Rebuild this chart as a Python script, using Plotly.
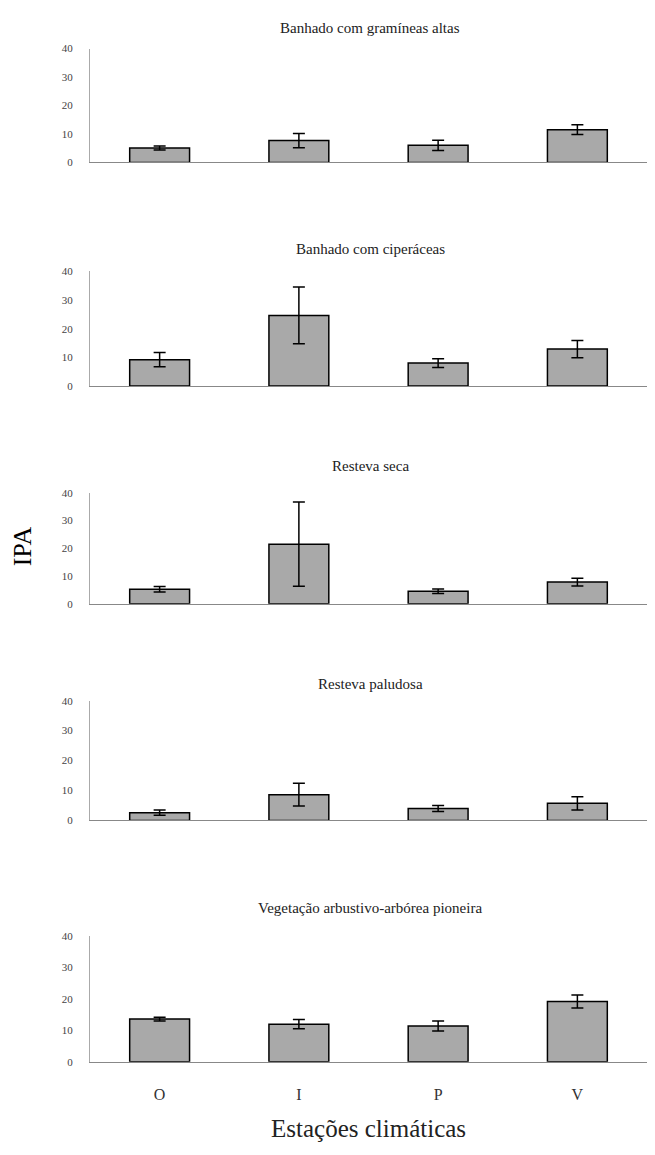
import plotly.graph_objects as go
from plotly.subplots import make_subplots

seasons = ["O", "I", "P", "V"]
titles = [
    "Banhado com gramíneas altas",
    "Banhado com ciperáceas",
    "Resteva seca",
    "Resteva paludosa",
    "Vegetação arbustivo-arbórea pioneira",
]
vals_gramineas = [5.1, 7.7, 6.0, 11.5]
err_gramineas = [0.7, 2.5, 1.8, 1.7]
vals_ciperaceas = [9.2, 24.6, 8.0, 12.9]
err_ciperaceas = [2.5, 9.9, 1.5, 3.0]
vals_resteva_seca = [5.2, 21.5, 4.5, 7.8]
err_resteva_seca = [1.0, 15.2, 0.8, 1.4]
vals_resteva_paludosa = [2.6, 8.6, 4.0, 5.7]
err_resteva_paludosa = [0.9, 3.8, 1.0, 2.2]
vals_vegetacao = [13.6, 12.0, 11.4, 19.2]
err_vegetacao = [0.6, 1.5, 1.6, 2.1]
y_ticks = [0, 10, 20, 30, 40]

series = [
    (vals_gramineas, err_gramineas),
    (vals_ciperaceas, err_ciperaceas),
    (vals_resteva_seca, err_resteva_seca),
    (vals_resteva_paludosa, err_resteva_paludosa),
    (vals_vegetacao, err_vegetacao),
]

# page is 655x1155; browser body margin of 8px around the figure
PW, PH, OFF = 655, 1155, 8
W, H = PW - 2 * OFF, PH - 2 * OFF


def px(x):
    return (x - OFF) / W


def py(y):
    return 1 - (y - OFF) / H


spans = [(43, 158), (268, 384), (492, 604), (702, 823), (940, 1067)]
title_y = [22, 245, 465, 685, 912]
x0_px, x1_px = 90, 647

fig = make_subplots(rows=5, cols=1)
serif = "Liberation Serif, Times New Roman, serif"

for i, (v, e) in enumerate(series):
    r = i + 1
    fig.add_trace(
        go.Bar(
            x=seasons, y=v,
            width=0.43,
            marker=dict(color="#a9a9a9", line=dict(color="black", width=1.5)),
            error_y=dict(type="data", array=e, color="black", thickness=1.5, width=6),
            showlegend=False,
        ),
        row=r, col=1,
    )
    top, bot = spans[i]
    yname = "yaxis" if r == 1 else f"yaxis{r}"
    xname = "xaxis" if r == 1 else f"xaxis{r}"
    fig.layout[yname].update(
        domain=[py(bot), py(top)],
        range=[0, 40], tickvals=y_ticks, ticktext=[str(t) for t in y_ticks],
        showline=True, linecolor="#aaaaaa", linewidth=1,
        showgrid=False, zeroline=False, ticks="",
        tickfont=dict(family=serif, size=11, color="#444"),
        ticklabelstandoff=14,
    )
    fig.layout[xname].update(
        domain=[px(x0_px), px(x1_px)],
        range=[-0.5, 3.5],
        showline=True, linecolor="#888888", linewidth=1,
        showgrid=False, zeroline=False, ticks="",
        showticklabels=(r == 5),
        tickfont=dict(family=serif, size=16, color="#333"),
        ticklabelstandoff=18,
    )
    fig.add_annotation(
        text=titles[i], xref="paper", yref="paper",
        x=px(370), y=py(title_y[i]), showarrow=False,
        font=dict(family=serif, size=15, color="#222"),
        xanchor="center", yanchor="middle",
    )

fig.add_annotation(
    text="IPA", xref="paper", yref="paper", x=px(22), y=py(546),
    showarrow=False, textangle=-90,
    font=dict(family=serif, size=26, color="black"),
    xanchor="center", yanchor="middle",
)
fig.add_annotation(
    text="Estações climáticas", xref="paper", yref="paper", x=px(368), y=py(1134),
    showarrow=False,
    font=dict(family=serif, size=25, color="#222"),
    xanchor="center", yanchor="middle",
)

fig.update_layout(
    width=W, height=H,
    margin=dict(l=0, r=0, t=0, b=0),
    plot_bgcolor="white", paper_bgcolor="white",
)
fig.write_html("out.html")
